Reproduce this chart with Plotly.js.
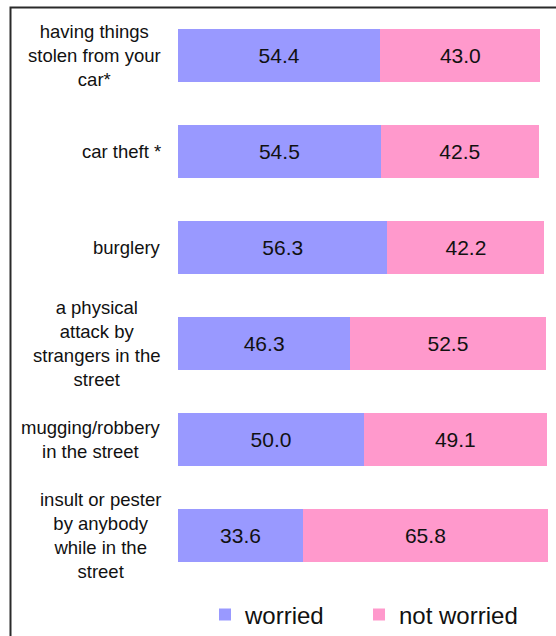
<!DOCTYPE html>
<html>
<head>
<meta charset="utf-8">
<script src="https://cdn.plot.ly/plotly-3.0.1.min.js"></script>
<style>html,body{margin:0;padding:0;background:#fff;}#chart{width:556px;height:636px;}</style>
</head>
<body>
<div id="chart"></div>
<script>
// Categories (top to bottom), with line breaks as in the reference
const categories = [
  "having things<br>stolen from your<br>car*",
  "car theft *",
  "burglery",
  "a physical<br>attack by<br>strangers in the<br>street",
  "mugging/robbery<br>in the street",
  "insult or pester<br>by anybody<br>while in the<br>street"
];
const worried    = [54.4, 54.5, 56.3, 46.3, 50.0, 33.6];
const notWorried = [43.0, 42.5, 42.2, 52.5, 49.1, 65.8];
const seriesNames = ["worried", "not worried"];
const seriesColors = ["#9999FF", "#FF99CC"];

const FONT = "Liberation Sans, Arial, Helvetica, sans-serif";

function barTrace(name, values, color, legendId) {
  return {
    type: "bar",
    orientation: "h",
    name: name,
    legend: legendId,
    y: categories,
    x: values,
    marker: {color: color, line: {width: 0}},
    text: values.map(v => v.toFixed(1)),
    textposition: "inside",
    insidetextanchor: "middle",
    textangle: 0,
    constraintext: "none",
    textfont: {family: FONT, size: 21, color: "#111"},
    hoverinfo: "skip"
  };
}

const data = [
  barTrace(seriesNames[0], worried, seriesColors[0], "legend"),
  barTrace(seriesNames[1], notWorried, seriesColors[1], "legend2")
];

const L = 178, R = 6, T = 7, B = 52, W = 556, H = 636;
const pw = W - L - R, ph = H - T - B;
const px2paperX = p => (p - L) / pw;
const py2paperY = p => 1 - (p - T) / ph;

const annotations = categories.map(c => ({
  xref: "paper", yref: "y",
  x: px2paperX(163), y: c,
  xanchor: "right", yanchor: "middle",
  align: "center",
  text: c,
  showarrow: false,
  font: {family: FONT, size: 18.5, color: "#111"}
}));

function legendAt(px) {
  return {
    orientation: "h",
    x: px2paperX(px), xanchor: "left",
    y: py2paperY(615), yanchor: "middle",
    font: {family: FONT, size: 24, color: "#111"},
    bgcolor: "rgba(0,0,0,0)",
    itemclick: false
  };
}

const layout = {
  width: W, height: H,
  margin: {l: L, r: R, t: T, b: B, pad: 0, autoexpand: false},
  paper_bgcolor: "#fff",
  plot_bgcolor: "#fff",
  barmode: "stack",
  bargap: 0.45,
  showlegend: true,
  legend: legendAt(205),
  legend2: legendAt(359),
  xaxis: {
    range: [0, 100], visible: false, fixedrange: true
  },
  yaxis: {
    type: "category",
    categoryorder: "array", categoryarray: categories,
    range: [5.5, -0.5],
    showticklabels: false, showgrid: false, zeroline: false, showline: false,
    ticks: "", fixedrange: true
  },
  annotations: annotations,
  shapes: [{
    type: "rect", xref: "paper", yref: "paper",
    x0: px2paperX(10.5), x1: 2,
    y0: -2, y1: py2paperY(7.5),
    line: {color: "#2a2a2a", width: 2},
    fillcolor: "rgba(0,0,0,0)",
    layer: "above"
  }]
};

Plotly.newPlot("chart", data, layout, {displayModeBar: false, staticPlot: true});
</script>
</body>
</html>
